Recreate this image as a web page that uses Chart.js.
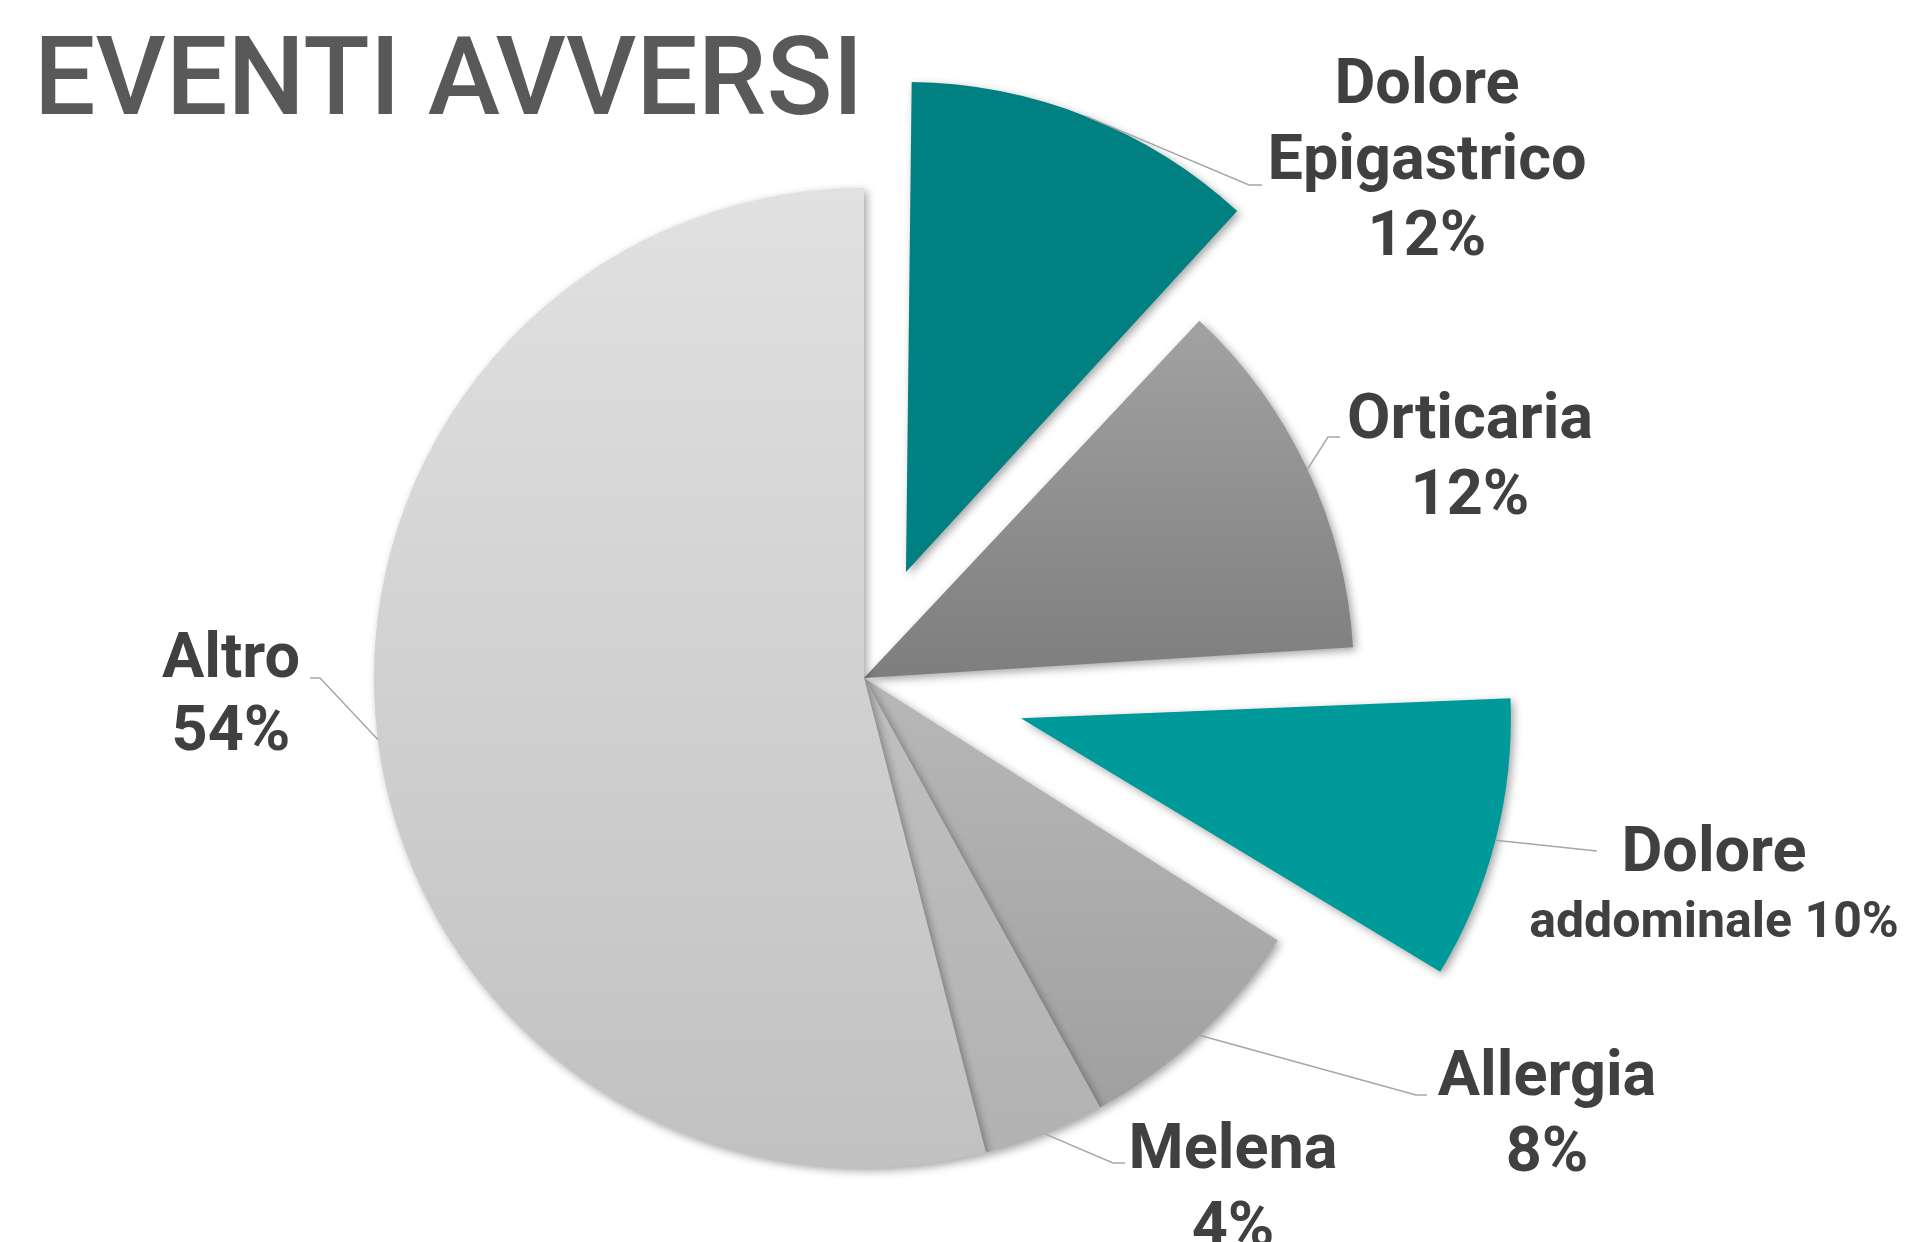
<!DOCTYPE html>
<html>
<head>
<meta charset="utf-8">
<title>Eventi avversi</title>
<script src="https://cdn.jsdelivr.net/npm/chart.js@4.4.0/dist/chart.umd.min.js"></script>
<style>
  html, body { margin: 0; padding: 0; background: #ffffff; }
  #wrap { width: 1911px; height: 1242px; position: relative; }
</style>
</head>
<body>
<div id="wrap"><canvas id="eventiChart"></canvas></div>
<script>
// chart data
const chartTitle = "EVENTI AVVERSI";
const categories = ["Dolore Epigastrico", "Orticaria", "Dolore addominale", "Allergia", "Melena", "Altro"];
const percentages = [12, 12, 10, 8, 4, 54];

// slice styling (not data)
const pieRadius = 490;
// how far each slice is pulled out, in px (Chart.js moves a slice by offset / 4)
const explodeOffsets = [114, 0, 162, 0, 0, 0];
const sliceGradients = [
  ["#008080", "#008080"],
  ["#a2a2a2", "#7e7e7e"],
  ["#009999", "#009999"],
  ["#b8b8b8", "#a0a0a0"],
  ["#c0c0c0", "#b2b2b2"],
  ["#e1e1e1", "#c1c1c1"]
];

// label placement: centre x, first baseline, line gap, leader elbow/end points
const labelLayout = [
  { x: 1427, y: 103, gap: 76, lead: [[1249, 185], [1262, 185]] },
  { x: 1470, y: 438, gap: 76, lead: [[1328, 437], [1340, 437]] },
  { x: 1714, y: 871, gap: 66, lead: [[1597, 851]], joinPct: true },
  { x: 1547, y: 1095, gap: 76, lead: [[1416, 1095], [1427, 1095]] },
  { x: 1233, y: 1168, gap: 78, lead: [[1113, 1163], [1125, 1163]] },
  { x: 231, y: 677, gap: 73, lead: [[320, 678], [310, 678]] }
];

const labelColor = "#404040";
const leaderColor = "#a6a6a6";

function sum(arr) {
  return arr.reduce((a, b) => a + b, 0);
}

// vertical gradient spanning each slice's own height
function sliceColor(c) {
  const stops = sliceGradients[c.dataIndex];
  const area = c.chart.chartArea;
  if (!area) return stops[0];
  const cy = (area.top + area.bottom) / 2;
  const total = sum(percentages);
  const before = sum(percentages.slice(0, c.dataIndex));
  const a0 = -Math.PI / 2 + before / total * 2 * Math.PI;
  const a1 = a0 + percentages[c.dataIndex] / total * 2 * Math.PI;
  const mid = (a0 + a1) / 2;
  const oy = cy + Math.sin(mid) * explodeOffsets[c.dataIndex];
  const ys = [oy, oy + Math.sin(a0) * pieRadius, oy + Math.sin(a1) * pieRadius];
  [-Math.PI / 2, Math.PI / 2, 3 * Math.PI / 2].forEach(a => {
    if (a > a0 && a < a1) ys.push(oy + Math.sin(a) * pieRadius);
  });
  const g = c.chart.ctx.createLinearGradient(0, Math.min(...ys), 0, Math.max(...ys));
  g.addColorStop(0, stops[0]);
  g.addColorStop(1, stops[1]);
  return g;
}

function labelLines(i) {
  const words = categories[i].split(" ");
  const pct = percentages[i] + "%";
  if (labelLayout[i].joinPct) {
    return [...words.slice(0, -1), words[words.length - 1] + " " + pct];
  }
  return [...words, pct];
}

// Chart.js grows an exploded slice's radius by offset*(1-sin(circumference));
// shrink it back so every slice keeps the same radius
const radiusFixPlugin = {
  id: "radiusFix",
  afterDatasetsUpdate(chart) {
    chart.getDatasetMeta(0).data.forEach(arc => {
      const off = (arc.options.offset || 0) / 4;
      const fix = 1 - Math.sin(Math.min(Math.PI, arc.circumference));
      arc.outerRadius = pieRadius - off * fix;
    });
  }
};

const shadowPlugin = {
  id: "sliceShadow",
  beforeDatasetsDraw(chart) {
    const ctx = chart.ctx;
    ctx.save();
    ctx.shadowColor = "rgba(0,0,0,0.35)";
    ctx.shadowBlur = 8;
    ctx.shadowOffsetX = 3;
    ctx.shadowOffsetY = 3;
  },
  afterDatasetsDraw(chart) {
    chart.ctx.restore();
  }
};

const labelPlugin = {
  id: "sliceLabels",
  afterDraw(chart) {
    const ctx = chart.ctx;
    const meta = chart.getDatasetMeta(0);
    ctx.save();

    // title
    ctx.fillStyle = "#595959";
    ctx.font = "500 109px Roboto";
    ctx.textAlign = "left";
    ctx.textBaseline = "alphabetic";
    ctx.fillText(chartTitle, 34, 114);

    meta.data.forEach((arc, i) => {
      const lay = labelLayout[i];
      const mid = (arc.startAngle + arc.endAngle) / 2;
      const r = pieRadius + (arc.options.offset || 0) / 4;
      const sx = arc.x + Math.cos(mid) * r;
      const sy = arc.y + Math.sin(mid) * r;

      ctx.strokeStyle = leaderColor;
      ctx.lineWidth = 1.5;
      ctx.beginPath();
      ctx.moveTo(sx, sy);
      lay.lead.forEach(p => ctx.lineTo(p[0], p[1]));
      ctx.stroke();

      ctx.fillStyle = labelColor;
      ctx.textAlign = "center";
      labelLines(i).forEach((line, k, all) => {
        const small = lay.joinPct && k === all.length - 1;
        ctx.font = "bold " + (small ? 50 : 63) + "px Roboto";
        ctx.fillText(line, lay.x, lay.y + k * lay.gap);
      });
    });
    ctx.restore();
  }
};

new Chart(document.getElementById("eventiChart"), {
  type: "pie",
  data: {
    labels: categories,
    datasets: [{
      data: percentages,
      backgroundColor: sliceColor,
      borderWidth: 0,
      offset: explodeOffsets.map(v => v * 4)
    }]
  },
  options: {
    responsive: true,
    maintainAspectRatio: false,
    animation: false,
    radius: pieRadius,
    layout: { padding: { left: 0, right: 183, top: 114, bottom: 0 } },
    plugins: {
      legend: { display: false },
      tooltip: { enabled: false },
      title: { display: false }
    }
  },
  plugins: [radiusFixPlugin, shadowPlugin, labelPlugin]
});
</script>
</body>
</html>
